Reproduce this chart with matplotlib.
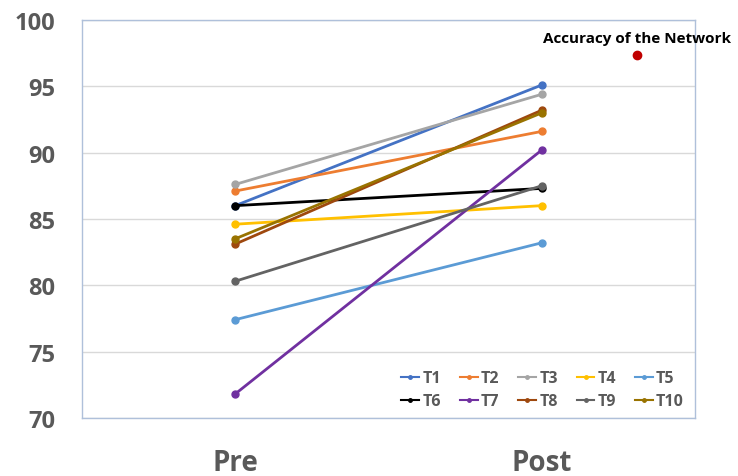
import matplotlib.pyplot as plt

plt.rcParams['font.family'] = ['Open Sans', 'DejaVu Sans']

# Pre / post scores for each trainee
phases = ['Pre', 'Post']
names = ['T1', 'T2', 'T3', 'T4', 'T5', 'T6', 'T7', 'T8', 'T9', 'T10']
pre = [86.0, 87.1, 87.6, 84.6, 77.4, 86.0, 71.8, 83.1, 80.3, 83.5]
post = [95.1, 91.6, 94.4, 86.0, 83.2, 87.3, 90.2, 93.2, 87.5, 93.0]
colors = ['#4472C4', '#ED7D31', '#A5A5A5', '#FFC000', '#5B9BD5',
          '#000000', '#7030A0', '#9E480E', '#636363', '#997300']

network_x = 1.31
network_acc = 97.35

fig = plt.figure(figsize=(7.38, 4.77), dpi=100)
ax = fig.add_axes([0.111, 0.122, 0.831, 0.834])

x = range(len(phases))
handles = []
for name, a, b, c in zip(names, pre, post, colors):
    h, = ax.plot(x, [a, b], color=c, lw=2, marker='o', ms=5, label=name)
    handles.append(h)

ax.plot([network_x], [network_acc], 'o', color='#C00000', ms=6, zorder=5)
ax.text(network_x, network_acc + 0.75, 'Accuracy of the Network',
        ha='center', va='bottom', fontsize=11, fontweight='bold', color='black')

ax.set_xlim(-0.5, 1.5)
ax.set_ylim(70, 100)
ax.set_yticks(range(70, 101, 5))
ax.set_xticks(list(x))
ax.set_xticklabels(phases, fontsize=20, fontweight='bold', color='#595959')
for lbl in ax.get_yticklabels():
    lbl.set_fontsize(17)
    lbl.set_fontweight('bold')
    lbl.set_color('#595959')
ax.tick_params(axis='y', length=0, pad=19)
ax.tick_params(axis='x', length=0, pad=22)

ax.grid(axis='y', color='#D9D9D9', lw=1)
ax.set_axisbelow(True)
for s in ax.spines.values():
    s.set_color('#AFC0DA')
    s.set_linewidth(1)

# legend fills column by column, so interleave to get T1..T5 on the first row
order = [0, 5, 1, 6, 2, 7, 3, 8, 4, 9]
leg = ax.legend([handles[i] for i in order], [names[i] for i in order],
                ncol=5, loc='lower right', bbox_to_anchor=(1.005, -0.015),
                frameon=False, handlelength=1.1, handletextpad=0.2,
                columnspacing=1.2, markerscale=0.5, labelspacing=0.45,
                prop={'size': 11.5, 'weight': 'bold'})
for t in leg.get_texts():
    t.set_color('#595959')
for h in leg.get_lines():
    h.set_linewidth(1.5)

fig.savefig('out.png', dpi=100)
